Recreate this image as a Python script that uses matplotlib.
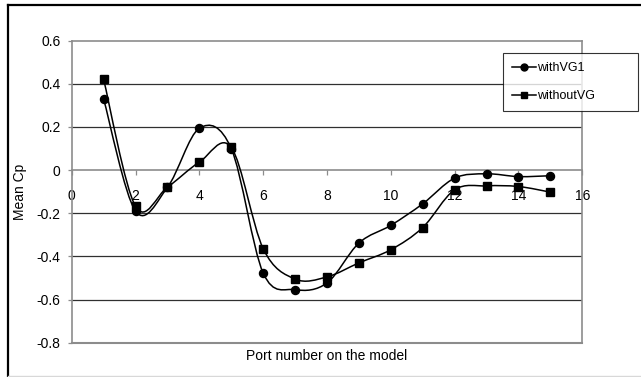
import numpy as np
import matplotlib
matplotlib.use("Agg")
import matplotlib.pyplot as plt
from matplotlib.path import Path
from matplotlib.patches import PathPatch
from matplotlib.lines import Line2D

plt.rcParams['font.family'] = ['Liberation Sans', 'DejaVu Sans']

ports = [1, 2, 3, 4, 5, 6, 7, 8, 9, 10, 11, 12, 13, 14, 15]
with_vg1 = [0.33, -0.19, -0.08, 0.194, 0.10, -0.477, -0.554, -0.523, -0.338, -0.256,
            -0.156, -0.037, -0.017, -0.03, -0.026]
without_vg = [0.421, -0.168, -0.079, 0.037, 0.105, -0.364, -0.505, -0.495, -0.43, -0.369,
              -0.266, -0.091, -0.073, -0.076, -0.102]
series_names = ["withVG1", "withoutVG"]
x_ticks = [0, 2, 4, 6, 8, 10, 12, 14, 16]
y_ticks = [-0.8, -0.6, -0.4, -0.2, 0, 0.2, 0.4, 0.6]
x_label = "Port number on the model"
y_label = "Mean Cp"

W, H = 641, 377
fig = plt.figure(figsize=(W / 100, H / 100), dpi=100)
ax = fig.add_axes([71.7 / W, 1 - 342.7 / H, (582.3 - 71.7) / W, (342.7 - 40.7) / H])
ax.set_xlim(0, 16)
ax.set_ylim(-0.8, 0.6)


def smooth_path(xs, ys):
    P = np.column_stack([xs, ys]).astype(float)
    n = len(P)
    verts = [P[0]]
    codes = [Path.MOVETO]
    for i in range(n - 1):
        p0 = P[i - 1] if i > 0 else P[i]
        p1 = P[i]
        p2 = P[i + 1]
        p3 = P[i + 2] if i + 2 < n else P[i + 1]
        c1 = p1 + (p2 - p0) / 6.0
        c2 = p2 - (p3 - p1) / 6.0
        verts += [c1, c2, p2]
        codes += [Path.CURVE4] * 3
    return Path(verts, codes)


gray = '#8c8c8c'
grid_c = '#303030'
for yv in [0.4, 0.2, -0.2, -0.4, -0.6]:
    ax.axhline(yv, color=grid_c, lw=0.9, zorder=1)

for ys, mk, ms in [(with_vg1, 'o', 5.8), (without_vg, 's', 5.8)]:
    ax.add_patch(PathPatch(smooth_path(ports, ys), fill=False, edgecolor='black', lw=1.1, zorder=3))
    ax.plot(ports, ys, linestyle='none', marker=mk, ms=ms, color='black', zorder=4)

handles = [Line2D([], [], color='black', lw=1.1, marker='o', ms=5),
           Line2D([], [], color='black', lw=1.1, marker='s', ms=5)]
leg = fig.legend(handles, series_names, loc='upper left', mode='expand',
                 bbox_to_anchor=(503 / W, 1 - 53 / H, 135 / W, 0.0), fontsize=9,
                 frameon=True, fancybox=False, shadow=False, edgecolor='black',
                 handlelength=1.9, handletextpad=0.1, labelspacing=1.25,
                 borderpad=0.75, borderaxespad=0)
leg.get_frame().set_linewidth(0.8)
leg.set_zorder(10)

for s in ['left', 'right', 'top']:
    ax.spines[s].set_color(gray)
    ax.spines[s].set_linewidth(1.2)
ax.spines['bottom'].set_position(('data', 0))
ax.spines['bottom'].set_color(gray)
ax.spines['bottom'].set_linewidth(1.2)
ax.axhline(-0.8, color=gray, lw=1.5, zorder=2, clip_on=False)

ax.set_xticks(x_ticks)
ax.set_xticklabels([str(v) for v in x_ticks])
ax.set_yticks(y_ticks)
ax.set_yticklabels(["%g" % v for v in y_ticks])
ax.tick_params(axis='x', direction='out', length=3.5, width=0.9, color=gray, pad=10, labelsize=10)
ax.tick_params(axis='y', direction='out', length=3, width=0.9, color=gray, pad=5, labelsize=10)

ax.set_xlabel(x_label, fontsize=10)
ax.xaxis.set_label_coords(0.5, -0.02)
ax.xaxis.label.set_va('top')
ax.set_ylabel(y_label, fontsize=10)
ax.yaxis.set_label_coords(-0.101, 0.5)
ax.yaxis.label.set_va('center')

# outer chart frame
fig.add_artist(Line2D([8 / W, 8 / W], [1 - 5 / H, 1 - 376 / H], color='black', lw=1.6, transform=fig.transFigure))
fig.add_artist(Line2D([8 / W, 1.0], [1 - 5 / H, 1 - 5 / H], color='black', lw=1.6, transform=fig.transFigure))
fig.add_artist(Line2D([8 / W, 1.0], [1 - 376 / H, 1 - 376 / H], color='#d8d8d8', lw=1, transform=fig.transFigure))

fig.savefig("out.png", dpi=100)
